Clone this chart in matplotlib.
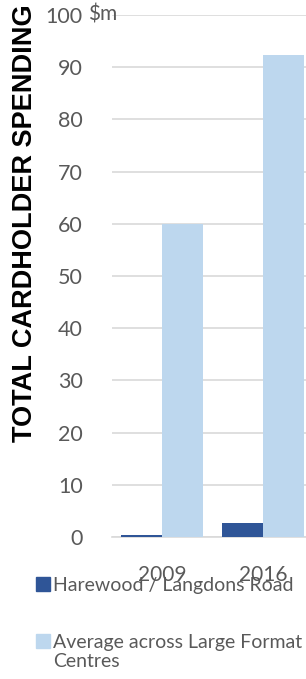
import numpy as np
import matplotlib
matplotlib.use('Agg')
import matplotlib.pyplot as plt
from matplotlib.patches import Rectangle

#%% data
years = ['2009', '2016']
harewood = [0.4, 2.7]
average_lfc = [60.0, 92.3]
y_ticks = [0, 10, 20, 30, 40, 50, 60, 70, 80, 90, 100]

series_names = ['Harewood / Langdons Road', 'Average across Large Format\nCentres']
dark_blue = '#2F5597'
light_blue = '#BDD7EE'
grey_text = '#595959'
grid_grey = '#D9D9D9'

plt.rcParams['font.family'] = ['Lato', 'DejaVu Sans']

#%% plot
fig = plt.figure(figsize=(3.06, 6.79), dpi=100)
ax = fig.add_axes([0.366, 0.209, 0.634, 0.769])

x = np.arange(len(years))
w = 0.41
ax.bar(x - w / 2, harewood, w, color=dark_blue, zorder=3)
ax.bar(x + w / 2, average_lfc, w, color=light_blue, zorder=3)

ax.set_ylim(0, 100)
ax.set_xlim(-0.5, 1.43)
ax.set_yticks(y_ticks)
ax.set_yticklabels([str(v) for v in y_ticks])
ax.set_xticks(x)
ax.set_xticklabels(years)
ax.tick_params(axis='y', length=0, pad=21, labelsize=15.5, labelcolor=grey_text)
ax.tick_params(axis='x', length=0, pad=20, labelsize=15, labelcolor=grey_text)
ax.yaxis.grid(True, color=grid_grey, linewidth=1.2, zorder=0)
for s in ['top', 'right', 'left']:
    ax.spines[s].set_visible(False)
ax.spines['bottom'].set_color(grid_grey)
ax.spines['bottom'].set_linewidth(1.2)

# unit label next to the top tick
ax.text(-0.74, 100, '$m', transform=ax.transData, ha='left', va='center',
        fontsize=15, color=grey_text, clip_on=False)

fig.text(0.082, 0.672, 'TOTAL CARDHOLDER SPENDING', rotation=90,
         ha='center', va='center', fontsize=19.5, fontweight='bold',
         family=['Liberation Sans', 'DejaVu Sans'], color='black')

# legend
legend_y = [1 - 585 / 679, 1 - 642 / 679]
legend_colors = [dark_blue, light_blue]
for name, col, ly in zip(series_names, legend_colors, legend_y):
    fig.patches.append(Rectangle((36 / 306, ly - 0.009), 14 / 306, 14 / 679,
                                 transform=fig.transFigure, color=col))
    fig.text(53 / 306, ly + 0.0125, name, ha='left', va='top', fontsize=14,
             color=grey_text, linespacing=1.2)

fig.savefig('out.png', dpi=100)
